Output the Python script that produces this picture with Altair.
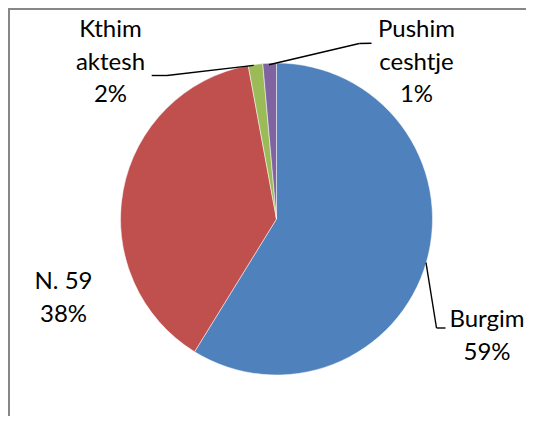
import altair as alt
import pandas as pd

# ---- data ----
categories = ["Burgim", "N. 59", "Kthim aktesh", "Pushim ceshtje"]
label_lines = [["Burgim"], ["N. 59"], ["Kthim", "aktesh"], ["Pushim", "ceshtje"]]
values = [58.8, 38.3, 1.5, 1.4]
pct_labels = ["59%", "38%", "2%", "1%"]
colors = ["#4F81BD", "#C0504D", "#9BBB59", "#8064A2"]

df = pd.DataFrame({
    "category": categories,
    "value": values,
    "order": list(range(len(categories))),
    "label": ["\n".join(l + [p]) for l, p in zip(label_lines, pct_labels)],
})

W, H = 518, 408
CX, CY, R = 268.5, 211, 156
FONT = "Lato"

base = alt.Chart(df)

pie = base.mark_arc(radius=R, stroke="white", strokeWidth=0.5).encode(
    theta=alt.Theta("value:Q", stack=True),
    color=alt.Color("category:N", scale=alt.Scale(domain=categories, range=colors), legend=None),
    order=alt.Order("order:Q"),
    x=alt.value(CX),
    y=alt.value(CY),
)


def label(cat, x, y):
    # y is the centre of the first line of the label
    return base.transform_filter(alt.datum.category == cat).mark_text(
        font=FONT, fontSize=24, lineHeight=32.5, lineBreak="\n",
        align="center", baseline="middle", color="black",
    ).encode(text="label:N", x=alt.value(x), y=alt.value(y))


def seg(cat, x1, y1, x2, y2):
    return base.transform_filter(alt.datum.category == cat).mark_rule(
        color="black", strokeWidth=1.4
    ).encode(x=alt.value(x1), y=alt.value(y1), x2=alt.value(x2), y2=alt.value(y2))


labels = [
    label("Burgim", 479, 312),
    label("N. 59", 55.5, 274),
    label("Kthim aktesh", 102.5, 22),
    label("Pushim ceshtje", 408.5, 22),
]

leaders = [
    seg("Kthim aktesh", 143.7, 67.5, 159, 67.5),
    seg("Kthim aktesh", 159, 67.5, 245.7, 57.4),
    seg("Pushim ceshtje", 261, 56.7, 351.3, 35.5),
    seg("Pushim ceshtje", 351.3, 35.5, 363.5, 35.3),
    seg("Burgim", 418, 254.7, 428.5, 320),
    seg("Burgim", 428.5, 320, 437.5, 320),
]

frame = [
    base.transform_filter(alt.datum.order == 0).mark_rule(color="#878787", strokeWidth=2).encode(
        x=alt.value(1), y=alt.value(0), y2=alt.value(H + 20)),
    base.transform_filter(alt.datum.order == 0).mark_rule(color="#878787", strokeWidth=2).encode(
        x=alt.value(0), x2=alt.value(W + 20), y=alt.value(1)),
]

chart = alt.layer(pie, *labels, *leaders, *frame).properties(
    width=W, height=H, padding=0, background="white",
    autosize=alt.AutoSizeParams(type="none"),
).configure_view(stroke="transparent", strokeWidth=0)

chart.save("out.html", embed_options={"renderer": "svg", "actions": False})
